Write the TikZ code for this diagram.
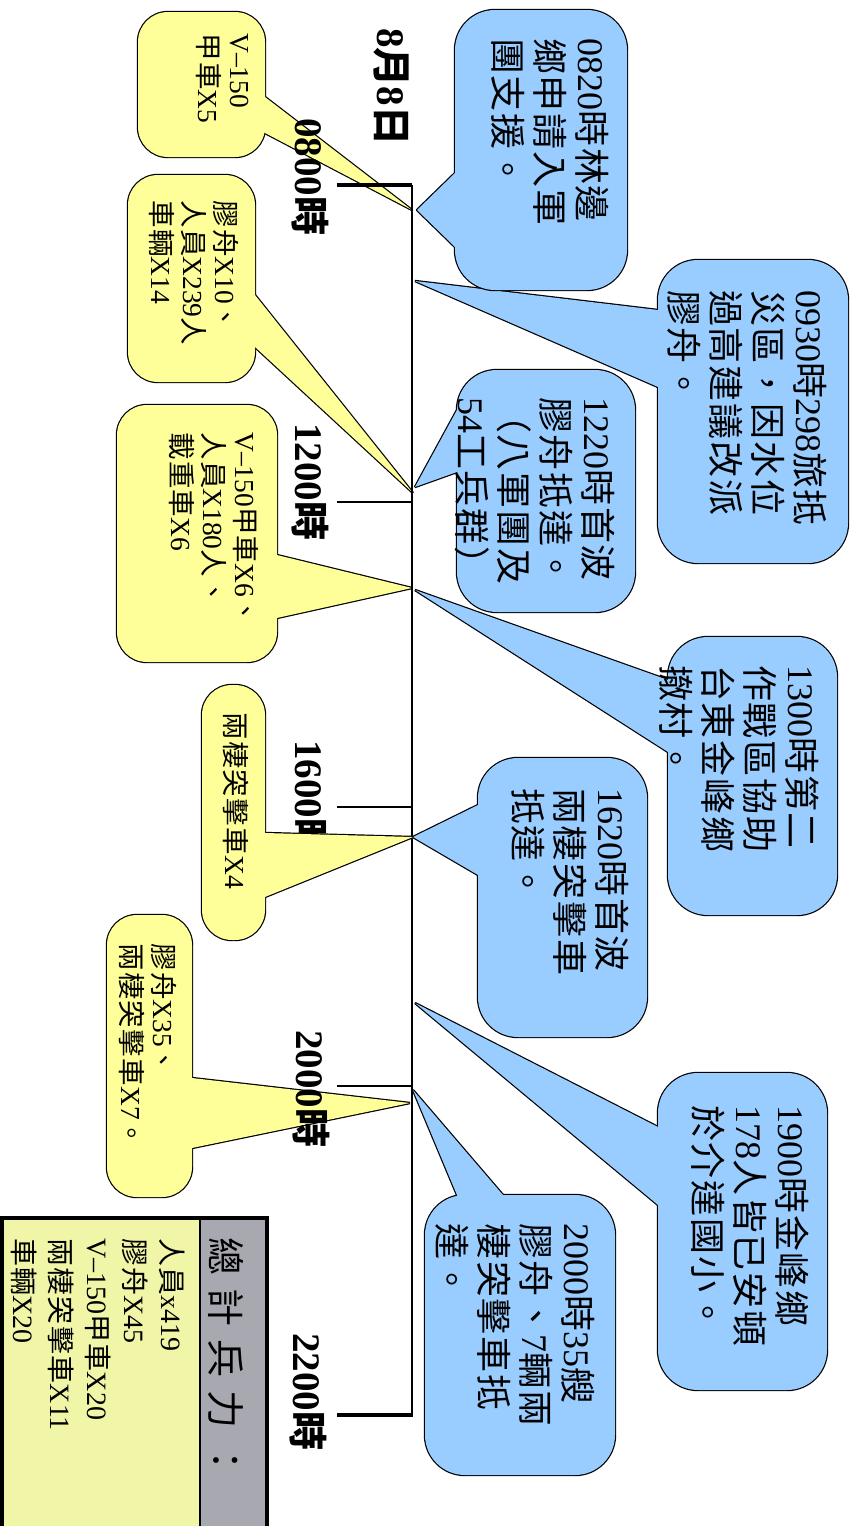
\documentclass[tikz,border=0pt]{standalone}
\usepackage{fontspec}
\setmainfont{Liberation Serif}
\newfontfamily\cj[LetterSpace=5]{Noto Sans CJK TC}
\usetikzlibrary{calc}
\definecolor{cblue}{HTML}{99CCFF}
\definecolor{cyel}{HTML}{FFFF99}
\definecolor{sumyel}{HTML}{F0F5A8}
\definecolor{sumgray}{HTML}{A8A8B0}
\newcommand\C[1]{{\cj #1}}
% #1 colour, #2 radius, #3 #4 rectangle corners, #5 tip, #6 #7 points where the pointer meets the box edge
\newcommand\callout[7]{%
  \draw[line width=2.4pt, rounded corners=#2] #3 rectangle #4;
  \draw[line width=2.4pt, line join=bevel] #5 -- ($#5!1.3!#6$) -- ($#5!1.3!#7$) -- cycle;
  \fill[#1, rounded corners=#2] #3 rectangle #4;
  \fill[#1] #5 -- ($#5!1.3!#6$) -- ($#5!1.3!#7$) -- cycle;
}
\tikzset{
  btext/.style={rotate=-90, anchor=north west, align=left, inner sep=0pt, font=\fontsize{36}{42}\selectfont},
  ytext/.style={rotate=-90, anchor=north west, align=left, inner sep=0pt, font=\fontsize{27.5}{32}\selectfont},
  stext/.style={rotate=-90, anchor=north west, align=left, inner sep=0pt, font=\fontsize{28}{37}\selectfont},
  tlabel/.style={rotate=-90, anchor=north west, inner sep=0pt, font=\fontsize{39}{44}\selectfont\bfseries},
}
\begin{document}
\begin{tikzpicture}[x=1pt,y=-1pt]
\useasboundingbox (0,0) rectangle (856,1526);

% ---- blue callouts ----
\callout{cblue}{40pt}{(658,260)}{(848,563)}{(415,281)}{(658,310)}{(658,387)}
\node[btext] (b0930) at (827,290) {0930\C{時}298\C{旅抵}\\\C{災區，因水位}\\\C{過高建議改派}\\\C{膠舟。}};
\callout{cblue}{40pt}{(455,10)}{(627,290)}{(417,210)}{(455,173)}{(455,247)}
\node[btext] (b0820) at (609,38) {0820\C{時林邊}\\\C{鄉申請入軍}\\\C{團支援。}};
\callout{cblue}{40pt}{(668,637)}{(837,915)}{(415,590)}{(668,680)}{(668,752)}
\node[btext] (b1300) at (819,665) {1300\C{時第二}\\\C{作戰區協助}\\\C{台東金峰鄉}\\\C{撤村。}};
\callout{cblue}{40pt}{(457,370)}{(635,612)}{(415,487)}{(457,410)}{(457,472)}
\node[btext] (b1220) at (615,397) {1220\C{時首波}\\\C{膠舟抵達。}\\\C{（八軍團及}\\54\C{工兵群）}};
\callout{cblue}{40pt}{(658,1073)}{(827,1390)}{(415,1003)}{(658,1127)}{(658,1205)}
\node[btext] (b1900) at (809,1105) {1900\C{時金峰鄉}\\178\C{人皆已安頓}\\\C{於介達國小。}};
\callout{cblue}{40pt}{(478,758)}{(647,1037)}{(413,837)}{(478,805)}{(478,875)}
\node[btext] (b1620) at (629,788) {1620\C{時首波}\\\C{兩棲突擊車}\\\C{抵達。}};
\callout{cblue}{40pt}{(425,1195)}{(615,1475)}{(413,1090)}{(457,1195)}{(503,1195)}
\node[btext] (b2000) at (595,1223) {2000\C{時}35\C{艘}\\\C{膠舟、}7\C{輛兩}\\\C{棲突擊車抵}\\\C{達。}};

% ---- yellow callouts ----
\callout{cyel}{30pt}{(138,12)}{(265,157)}{(412,210)}{(265,97)}{(265,133)}
\node[ytext] (y1) at (249,33) {V–150\\\C{甲車}X5};
\callout{cyel}{30pt}{(128,175)}{(255,382)}{(413,493)}{(255,295)}{(255,347)}
\node[ytext] (y2) at (239,200) {\C{膠舟}X10\C{、}\\\C{人員}X239\C{人}\\\C{車輛}X14};
\callout{cyel}{30pt}{(117,405)}{(277,662)}{(412,588)}{(277,555)}{(277,618)}
\node[ytext] (y3) at (259,432) {V–150\C{甲車}X6\C{、}\\\C{人員}X180\C{人、}\\\C{載重車}X6};
\callout{cyel}{30pt}{(107,915)}{(192,1197)}{(410,1103)}{(192,1078)}{(192,1148)}
\node[ytext] (y5) at (177,943) {\C{膠舟}X35\C{、}\\\C{兩棲突擊車}X7\C{。}};

% ---- time line ----
\coordinate (tTop) at (412,185);
\coordinate (tBot) at (412,1415);
\draw[line width=2pt] (tTop) -- (tBot);
\draw[line width=3.5pt] (337,185) -- (tTop);
\draw[line width=2pt] (337,502) -- (412,502);
\draw[line width=2pt] (337,807) -- (412,807);
\draw[line width=2pt] (337,1086) -- (412,1086);
\draw[line width=3.5pt] (337,1415) -- (413,1415);

\node[tlabel] (d88) at (409,28) {8\C{月}8\C{日}};
\node[tlabel] (t0800) at (329,118) {0800\C{時}};
\node[tlabel] (t1200) at (329,423) {1200\C{時}};
\node[tlabel] (t1600) at (329,740) {1600\C{時}};
\node[tlabel] (t2000) at (330,1030) {2000\C{時}};
\node[tlabel] (t2200) at (327,1333) {2200\C{時}};

\callout{cyel}{30pt}{(202,685)}{(265,940)}{(413,837)}{(265,833)}{(265,897)}
\node[ytext] (y4) at (249,712) {\C{兩棲突擊車}X4};

% ---- summary box ----
\fill[sumyel] (2,1218) rectangle (200,1530);
\fill[sumgray] (200,1218) rectangle (267,1530);
\draw[line width=1.2pt] (200,1218) -- (200,1530);
\draw[line width=4pt] (2,1532) -- (2,1218) -- (267,1218) -- (267,1532);
\node[rotate=-90, anchor=west, inner sep=0pt, font=\fontsize{38}{44}\selectfont] (sumhead) at (226,1237)
  {\C{總}\hspace{13pt}\C{計}\hspace{13pt}\C{兵}\hspace{13pt}\C{力}\hspace{13pt}\C{：}};
\node[stext] (sumbody) at (185,1238) {\C{人員}x419\\\C{膠舟}X45\\V–150\C{甲車}X20\\\C{兩棲突擊車}X11\\\C{車輛}X20};
\end{tikzpicture}
\end{document}
